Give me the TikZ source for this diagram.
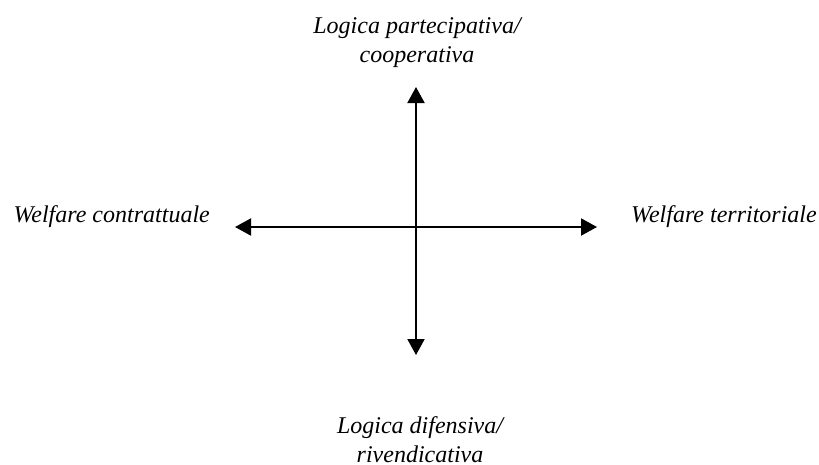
\documentclass[tikz,border=0pt]{standalone}
\usepackage{fontspec}
\setmainfont{Liberation Serif}
\usetikzlibrary{arrows.meta}
\begin{document}
\begin{tikzpicture}[x=1pt,y=-1pt,
  lbl/.style={font=\fontsize{24}{29}\selectfont\itshape, align=center, inner sep=0pt},
  axis/.style={line width=2pt, {Triangle[length=16pt,width=17pt]}-{Triangle[length=16pt,width=17pt]}}]
\useasboundingbox (0,0) rectangle (819,464);
\coordinate (top) at (416,87);
\coordinate (bot) at (416,355);
\coordinate (lft) at (235,227);
\coordinate (rgt) at (597,227);
\draw[axis] (top) -- (bot);
\draw[axis] (lft) -- (rgt);
\node[lbl, anchor=base] (n) at (417,62) {Logica partecipativa/\\cooperativa};
\node[lbl, anchor=base] (s) at (420,462) {Logica difensiva/\\rivendicativa};
\node[lbl, anchor=base east] (w) at (210,222) {Welfare contrattuale};
\node[lbl, anchor=base west] (e) at (631,222) {Welfare territoriale};
\end{tikzpicture}
\end{document}
